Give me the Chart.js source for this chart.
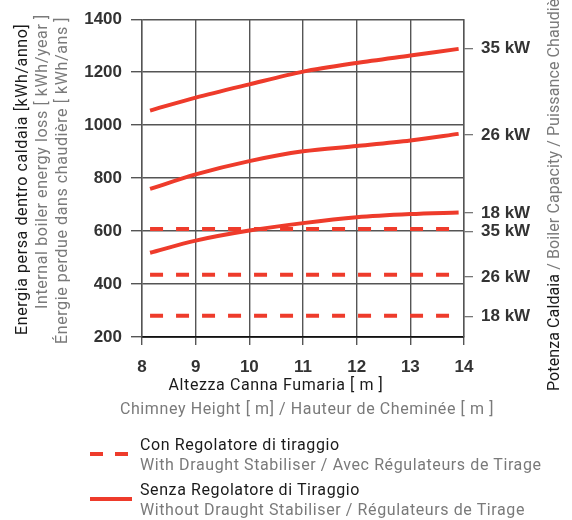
<!DOCTYPE html>
<html>
<head>
<meta charset="utf-8">
<script src="https://cdn.jsdelivr.net/npm/chart.js@4"></script>
<style>
  body { margin: 0; background: #fff; }
  #wrap { position: relative; width: 572px; height: 520px; overflow: hidden; font-family: Roboto, sans-serif; }
  #myChart { position: absolute; left: 0; top: 0; }
  .t { position: absolute; white-space: nowrap; font-size: 16px; line-height: 18px; letter-spacing: 0.6px; }
  .dark { color: #1a1a1a; }
  .grey { color: #7a7a7a; }
  .rot { transform-origin: 0 0; transform: rotate(-90deg); }
  .mid { transform: translate(-50%, -50%); }
</style>
</head>
<body>
<div id="wrap">
  <canvas id="myChart" width="572" height="520"></canvas>

  <div class="t dark rot" style="left:13px; top:335px;">Energia persa dentro caldaia [kWh/anno]</div>
  <div class="t grey rot" style="left:33px; top:309px;">Internal boiler energy loss [ kWh/year ]</div>
  <div class="t grey rot" style="left:53px; top:344px;">Énergie perdue dans chaudière [ kWh/ans ]</div>

  <div class="t rot" style="left:545px; top:391px; letter-spacing:0.1px;"><span class="dark">Potenza Caldaia</span><span class="grey"> / Boiler Capacity / Puissance Chaudière</span></div>

  <div class="t dark mid" style="left:276px; top:385px;">Altezza Canna Fumaria [ m ]</div>
  <div class="t grey mid" style="left:307px; top:409px;">Chimney Height [ m] / Hauteur de Cheminée [ m ]</div>

  <div style="position:absolute; left:90px; top:452px; width:13px; height:4px; background:#ee3b2b;"></div>
  <div style="position:absolute; left:115px; top:452px; width:13px; height:4px; background:#ee3b2b;"></div>
  <div style="position:absolute; left:90px; top:497px; width:42px; height:4px; background:#ee3b2b;"></div>
  <div class="t dark" style="left:140px; top:436px;">Con Regolatore di tiraggio</div>
  <div class="t grey" style="left:140px; top:456px;">With Draught Stabiliser / Avec Régulateurs de Tirage</div>
  <div class="t dark" style="left:140px; top:481px;">Senza Regolatore di Tiraggio</div>
  <div class="t grey" style="left:140px; top:501px;">Without Draught Stabiliser / Régulateurs de Tirage</div>
</div>
<script>
  // chimney height [m]
  const heights = [8.15, 9, 10, 11, 12, 13, 13.9];

  // without draught stabiliser (solid)
  const without35 = [1055, 1104, 1154, 1202, 1235, 1263, 1288];
  const without26 = [759, 814, 864, 901, 921, 942, 967];
  const without18 = [518, 564, 602, 630, 652, 664, 670];

  // with draught stabiliser (dashed, flat)
  const with35 = [608, 608, 608, 608, 608, 608, 608];
  const with26 = [435, 435, 435, 435, 435, 435, 435];
  const with18 = [280, 280, 280, 280, 280, 280, 280];

  // right axis labels
  const capTickValues = [277, 427, 599, 668, 963, 1289];
  const capTickLabels = ['18 kW', '26 kW', '35 kW', '18 kW', '26 kW', '35 kW'];

  const red = '#ee3b2b';
  const pts = arr => arr.map((v, i) => ({ x: heights[i], y: v }));

  const solid = arr => ({
    data: pts(arr), borderColor: red, borderWidth: 4,
    pointRadius: 0, tension: 0.3, fill: false
  });
  const dashed = arr => ({
    data: pts(arr), borderColor: red, borderWidth: 4,
    borderDash: [13, 13], pointRadius: 0, fill: false
  });

  const data = {
    datasets: [
      solid(without35), solid(without26), solid(without18),
      dashed(with35), dashed(with26), dashed(with18)
    ]
  };

  Chart.defaults.font.family = 'Arial, "Liberation Sans", sans-serif';
  const tickFont = { family: 'Arial, "Liberation Sans", sans-serif', size: 17, weight: 'bold' };
  const tickColor = '#333';

  const config = {
    type: 'line',
    data,
    options: {
      responsive: false,
      animation: false,
      layout: { padding: { top: 16, left: 0, right: 0, bottom: 0 } },
      plugins: { legend: { display: false }, tooltip: { enabled: false } },
      scales: {
        x: {
          type: 'linear', min: 8, max: 14,
          ticks: { stepSize: 1, color: tickColor, font: tickFont, padding: 12, callback: v => String(v) },
          grid: { color: '#555', lineWidth: 1.4, tickLength: 8 },
          border: { color: '#111', width: 1.7 },
          afterFit: s => { s.height = 183; }
        },
        y: {
          position: 'left', min: 200, max: 1400,
          ticks: { stepSize: 200, color: tickColor, font: tickFont, padding: 9, callback: v => String(v) },
          grid: { color: '#555', lineWidth: 1.4, tickLength: 11 },
          border: { color: '#555', width: 1.4 },
          afterFit: s => { s.width = 142; }
        },
        y2: {
          position: 'right', min: 200, max: 1400,
          afterBuildTicks: s => { s.ticks = capTickValues.map(v => ({ value: v })); },
          ticks: {
            color: tickColor, font: tickFont, padding: 8, autoSkip: false,
            callback: (v, i) => capTickLabels[i]
          },
          grid: { drawOnChartArea: false, color: '#777', lineWidth: 1.3, tickLength: 9 },
          border: { color: '#555', width: 1.4 },
          afterFit: s => { s.width = 108; }
        }
      }
    }
  };

  const myChart = new Chart(document.getElementById('myChart'), config);
</script>
</body>
</html>
